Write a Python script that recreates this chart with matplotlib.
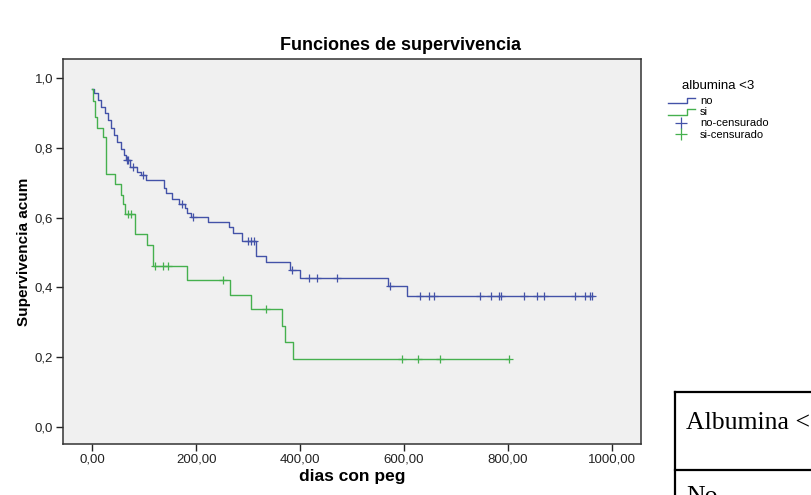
import numpy as np
import matplotlib
matplotlib.use("Agg")
import matplotlib.pyplot as plt
from matplotlib.lines import Line2D
from matplotlib.legend_handler import HandlerBase

# ---------------- data ----------------
no_t = [0, 4, 11, 17, 24, 30, 37, 42, 48, 55, 61, 65, 72, 87, 94, 104, 139, 143,
        153, 168, 178, 182, 190, 222, 264, 271, 289, 315, 335, 381, 400, 570, 606]
no_s = [0.970, 0.956, 0.937, 0.918, 0.899, 0.879, 0.856, 0.836, 0.817, 0.798,
        0.779, 0.764, 0.745, 0.731, 0.721, 0.707, 0.685, 0.670, 0.654, 0.640,
        0.628, 0.614, 0.601, 0.587, 0.572, 0.555, 0.534, 0.491, 0.472, 0.450,
        0.427, 0.403, 0.375]
no_end = 962
no_cens = [68, 70, 78, 97, 172, 194, 300, 306, 312, 384, 417, 432, 472, 574,
           630, 649, 658, 747, 768, 783, 786, 831, 855, 869, 929, 949, 957, 962]

si_t = [0, 2, 5, 10, 20, 27, 45, 55, 60, 63, 82, 106, 117, 182, 265, 305, 365,
        372, 387]
si_s = [0.970, 0.935, 0.889, 0.858, 0.831, 0.725, 0.697, 0.666, 0.640, 0.611,
        0.554, 0.520, 0.460, 0.420, 0.378, 0.338, 0.290, 0.242, 0.193]
si_end = 803
si_cens = [69, 75, 121, 136, 146, 252, 335, 596, 627, 669, 803]

x_ticks = [0, 200, 400, 600, 800, 1000]
x_tick_labels = ["0,00", "200,00", "400,00", "600,00", "800,00", "1000,00"]
y_ticks = [0.0, 0.2, 0.4, 0.6, 0.8, 1.0]
y_tick_labels = ["0,0", "0,2", "0,4", "0,6", "0,8", "1,0"]

title = "Funciones de supervivencia"
x_label = "dias con peg"
y_label = "Supervivencia acum"
legend_title = "albumina <3"
group_labels = ["no", "si"]
censor_labels = ["no-censurado", "si-censurado"]
table_header = "Albumina <3"
table_row = "No"

BLUE = "#4352a8"
GREEN = "#45b04e"

plt.rcParams['font.family'] = ['Liberation Sans', 'DejaVu Sans']

W, H = 811, 495
fig = plt.figure(figsize=(W / 100, H / 100), dpi=100)
fig.patch.set_facecolor("white")

# axes box in pixels: x 63..641, y 59..444
L, R, T, B = 63, 641, 59, 444
ax = fig.add_axes([L / W, 1 - B / H, (R - L) / W, (B - T) / H])
ax.set_facecolor("#f0f0f0")


def step_curve(t, s, end):
    t = np.asarray(t, float)
    s = np.asarray(s, float)
    return np.append(t, end), np.append(s, s[-1])


def censor_y(t, s, c):
    t = np.asarray(t, float)
    s = np.asarray(s, float)
    idx = np.searchsorted(t, np.asarray(c, float), side="right") - 1
    return s[idx]


for t, s, end, cens, col in [(no_t, no_s, no_end, no_cens, BLUE),
                             (si_t, si_s, si_end, si_cens, GREEN)]:
    xs, ys = step_curve(t, s, end)
    ax.step(xs, ys, where="post", color=col, lw=1.0)
    ax.plot(cens, censor_y(t, s, cens), ls="none", marker="+", ms=6,
            mew=0.9, color=col)

ax.set_xlim(-56, 1056)
ax.set_ylim(-0.05, 1.055)
ax.set_xticks(x_ticks)
ax.set_xticklabels(x_tick_labels)
ax.set_yticks(y_ticks)
ax.set_yticklabels(y_tick_labels)
ax.tick_params(direction="out", length=5, width=1.0, labelsize=9.5,
               colors="#222222", pad=2)
for sp in ax.spines.values():
    sp.set_color("#333333")
    sp.set_linewidth(1.1)

ax.set_xlabel(x_label, fontsize=12.5, fontweight="bold", labelpad=2)
ax.set_ylabel(y_label, fontsize=11, fontweight="bold", labelpad=3)
fig.text(400 / W, 1 - 45 / H, title, ha="center", va="center",
         fontsize=13, fontweight="bold")


# ---------------- legend ----------------
class StepHandler(HandlerBase):
    def create_artists(self, legend, orig_handle, xdescent, ydescent,
                       width, height, fontsize, trans):
        x0, y0 = -xdescent, -ydescent
        xs = [x0, x0 + width * 0.7, x0 + width * 0.7, x0 + width]
        ys = [y0 + height * 0.1, y0 + height * 0.1, y0 + height * 0.8,
              y0 + height * 0.8]
        ln = Line2D(xs, ys, color=orig_handle.get_color(), lw=1.0)
        ln.set_transform(trans)
        return [ln]


h_no = Line2D([], [], color=BLUE)
h_si = Line2D([], [], color=GREEN)
h_nc = Line2D([], [], color=BLUE, ls="none", marker="+", ms=8, mew=0.9)
h_sc = Line2D([], [], color=GREEN, ls="none", marker="+", ms=8, mew=0.9)
leg = fig.legend([h_no, h_si, h_nc, h_sc],
                 group_labels + censor_labels,
                 title=legend_title, loc="upper left",
                 bbox_to_anchor=(668 / W, 1 - 80 / H),
                 frameon=False, fontsize=8, title_fontsize=9.5,
                 handlelength=2.4, handletextpad=0.5, labelspacing=0.1,
                 borderaxespad=0, borderpad=0,
                 handler_map={h_no: StepHandler(), h_si: StepHandler()})
leg._legend_box.sep = 3

# ---------------- partial table at lower right ----------------
fig.add_artist(Line2D([675 / W, 675 / W], [1 - 392 / H, 0], color="black",
                      lw=1.6, transform=fig.transFigure))
fig.add_artist(Line2D([675 / W, 1.0], [1 - 392 / H, 1 - 392 / H],
                      color="black", lw=1.6, transform=fig.transFigure))
fig.add_artist(Line2D([675 / W, 1.0], [1 - 470 / H, 1 - 470 / H],
                      color="black", lw=1.6, transform=fig.transFigure))
fig.text(686 / W, 1 - 423 / H, table_header, ha="left", va="center",
         fontsize=18.5, family=['Liberation Serif', 'DejaVu Serif'])
fig.text(686 / W, 1 - 486 / H, table_row, ha="left", va="top",
         fontsize=18.5, family=['Liberation Serif', 'DejaVu Serif'])

fig.savefig("out.png", dpi=100, facecolor="white")
